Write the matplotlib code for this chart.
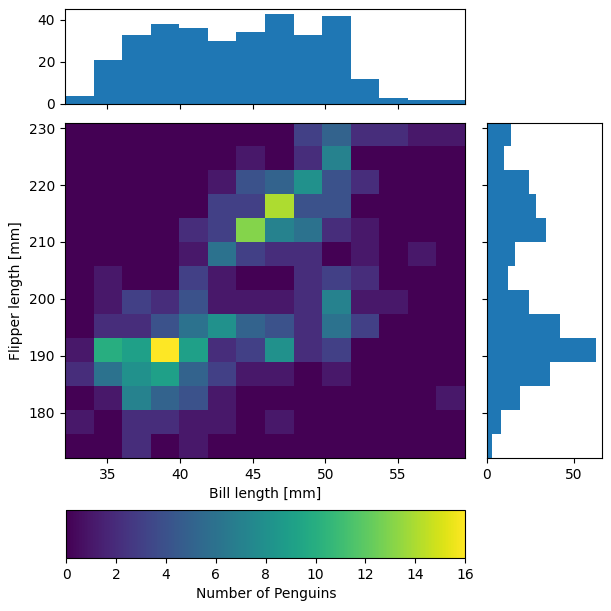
import numpy as np
import matplotlib
matplotlib.use("Agg")
import matplotlib.pyplot as plt

# bin edges (bill length on x, flipper length on y)
bill_range = (32.1, 59.6)
flipper_range = (172.0, 231.0)
n_bins = 14

# penguin counts per cell, rows listed from the top (long flippers) down
counts_top_down = [
    [0, 0, 0, 0, 0, 0, 0, 0, 3, 5, 2, 2, 1, 1],
    [0, 0, 0, 0, 0, 0, 1, 0, 2, 7, 0, 0, 0, 0],
    [0, 0, 0, 0, 0, 1, 4, 5, 8, 4, 2, 0, 0, 0],
    [0, 0, 0, 0, 0, 3, 3, 14, 4, 4, 0, 0, 0, 0],
    [0, 0, 0, 0, 2, 3, 13, 7, 6, 2, 1, 0, 0, 0],
    [0, 0, 0, 0, 1, 6, 3, 2, 2, 0, 1, 0, 1, 0],
    [0, 1, 0, 0, 3, 1, 0, 0, 2, 3, 2, 0, 0, 0],
    [0, 1, 3, 2, 4, 1, 1, 1, 2, 7, 1, 1, 0, 0],
    [0, 2, 2, 4, 6, 8, 5, 4, 2, 6, 3, 0, 0, 0],
    [1, 10, 9, 16, 9, 2, 3, 8, 2, 3, 0, 0, 0, 0],
    [2, 6, 8, 9, 5, 3, 1, 1, 0, 1, 0, 0, 0, 0],
    [0, 1, 7, 5, 4, 1, 0, 0, 0, 0, 0, 0, 0, 1],
    [1, 0, 2, 2, 1, 1, 0, 1, 0, 0, 0, 0, 0, 0],
    [0, 0, 2, 0, 1, 0, 0, 0, 0, 0, 0, 0, 0, 0],
]

counts = np.array(counts_top_down[::-1])
x_edges = np.linspace(*bill_range, n_bins + 1)
y_edges = np.linspace(*flipper_range, n_bins + 1)
bill_counts = counts.sum(axis=0)
flipper_counts = counts.sum(axis=1)

fig = plt.figure(figsize=(6.11, 6.11), dpi=100)
ax = fig.add_axes([0.1064, 0.2504, 0.6547, 0.5491])
ax_top = fig.add_axes([0.1064, 0.8298, 0.6547, 0.1555], sharex=ax)
ax_right = fig.add_axes([0.797, 0.2504, 0.1882, 0.5491], sharey=ax)
cax = fig.add_axes([0.1088, 0.0867, 0.6523, 0.0786])

mesh = ax.pcolormesh(x_edges, y_edges, counts, cmap='viridis', vmin=0, vmax=16)
ax.set_xlim(*bill_range)
ax.set_ylim(*flipper_range)
ax.set_xlabel('Bill length [mm]')
ax.set_ylabel('Flipper length [mm]')

ax_top.bar(x_edges[:-1], bill_counts, width=np.diff(x_edges), align='edge', color='C0')
ax_top.tick_params(axis='x', labelbottom=False)
ax_top.set_ylim(0, bill_counts.max() * 1.05)

ax_right.barh(y_edges[:-1], flipper_counts, height=np.diff(y_edges), align='edge', color='C0')
ax_right.tick_params(axis='y', labelleft=False)
ax_right.set_xlim(0, flipper_counts.max() * 1.05)

fig.colorbar(mesh, cax=cax, orientation='horizontal', label='Number of Penguins')

plt.savefig('out.png', dpi=100)
